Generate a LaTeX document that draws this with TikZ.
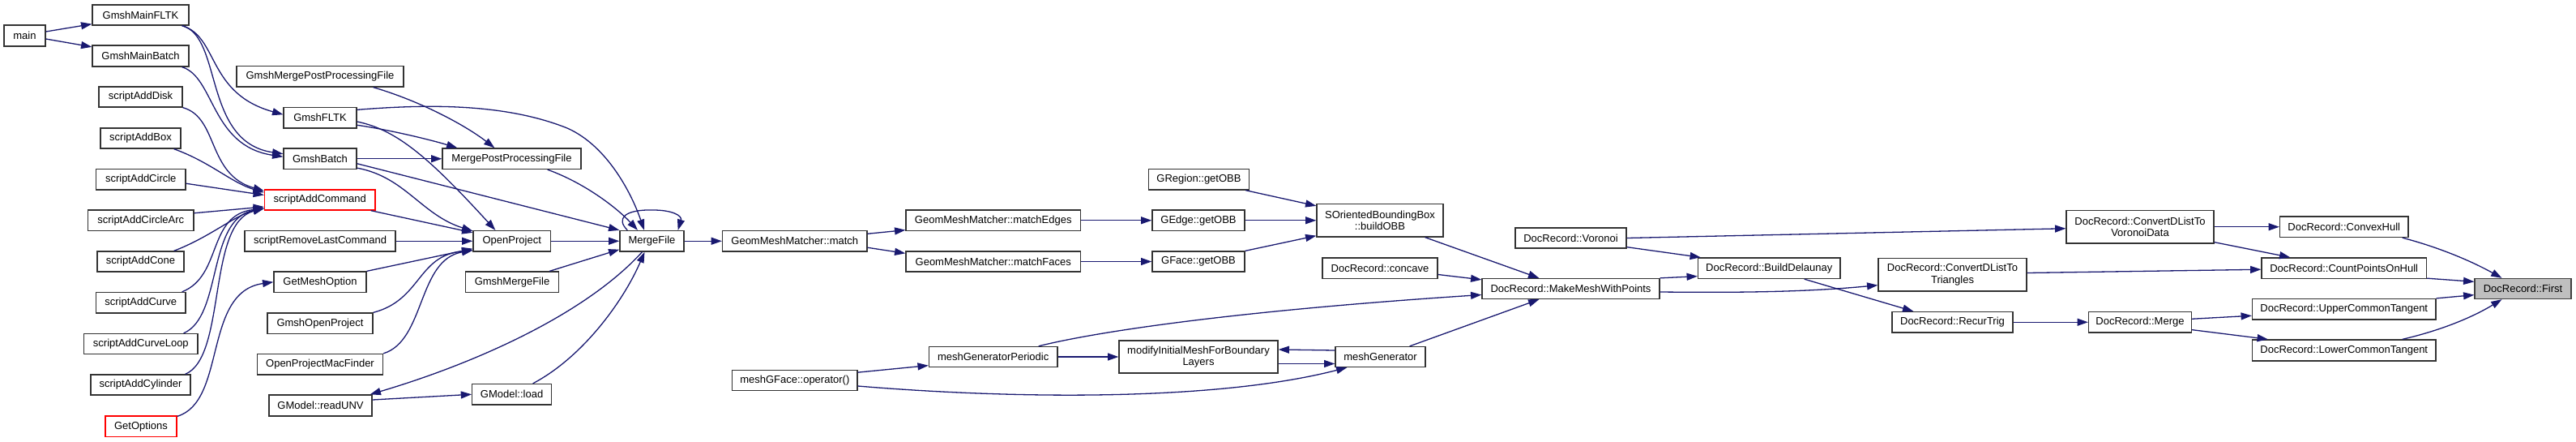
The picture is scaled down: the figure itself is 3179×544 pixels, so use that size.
\documentclass[tikz,border=0pt]{standalone}
\usepackage{fontspec}
\setmainfont{Liberation Sans}
\usetikzlibrary{arrows.meta,calc}
\definecolor{edgeblue}{HTML}{191970}
\definecolor{nodeborder}{HTML}{333333}
\definecolor{rootfill}{HTML}{BFBFBF}
\definecolor{rootborder}{HTML}{404040}
\tikzset{
  fn/.style={draw=nodeborder, fill=white, line width=1.3pt, inner sep=0pt, align=center,
    font=\fontsize{13}{14.5}\selectfont, text=black},
  redfn/.style={fn, draw=red},
  rootfn/.style={fn, fill=rootfill, draw=rootborder},
  call/.style={draw=edgeblue, line width=1.3pt, -{Triangle[length=13.3pt,width=9pt]}, fill=none},
}
\newcommand{\fnode}[7]{\node[#1, minimum width=#5pt, minimum height=#6pt] (#2) at (#3,#4) {#7};}
\begin{document}
\begin{tikzpicture}[x=1pt,y=-1pt]
\useasboundingbox (0,0) rectangle (3179,544);
% ---- nodes ----
\fnode{fn}{main}{30.5}{44}{51}{26}{main}
\fnode{fn}{gmfltk}{173.5}{18.5}{119}{25}{GmshMainFLTK}
\fnode{fn}{gmbatch}{173.5}{69}{119}{26}{GmshMainBatch}
\fnode{fn}{gmpp}{395}{94.25}{206}{25.5}{GmshMergePostProcessingFile}
\fnode{fn}{sadisk}{173.5}{119.5}{103}{25}{scriptAddDisk}
\fnode{fn}{gfltk}{395}{145.25}{90}{25.5}{GmshFLTK}
\fnode{fn}{sabox}{173.5}{170.5}{99}{25}{scriptAddBox}
\fnode{fn}{gbatch}{395}{195.75}{90}{25.5}{GmshBatch}
\fnode{fn}{sacircle}{173.75}{221.25}{110.5}{25.5}{scriptAddCircle}
\fnode{redfn}{sacmd}{394.75}{246.5}{136.5}{25}{scriptAddCommand}
\fnode{fn}{sacarc}{173.75}{271.75}{130.5}{25.5}{scriptAddCircleArc}
\fnode{fn}{srlc}{395}{297.25}{186}{25.5}{scriptRemoveLastCommand}
\fnode{fn}{sacone}{173.5}{322.5}{107}{25}{scriptAddCone}
\fnode{fn}{gmo}{395}{347.75}{114}{25.5}{GetMeshOption}
\fnode{fn}{sacurve}{173.75}{373.25}{110.5}{25.5}{scriptAddCurve}
\fnode{fn}{gop}{395}{398.75}{130}{25.5}{GmshOpenProject}
\fnode{fn}{sacl}{173.85}{424}{140.3}{25}{scriptAddCurveLoop}
\fnode{fn}{opmf}{395}{449.25}{155}{25.5}{OpenProjectMacFinder}
\fnode{fn}{sacyl}{173.5}{474.5}{123}{25}{scriptAddCylinder}
\fnode{fn}{runv}{395.5}{500}{127}{26}{GModel::readUNV}
\fnode{redfn}{getopt}{174}{525.75}{88}{25.5}{GetOptions}
\fnode{fn}{mpp}{631.5}{195.75}{171}{25.5}{MergePostProcessingFile}
\fnode{fn}{op}{631.75}{297.25}{95.5}{25.5}{OpenProject}
\fnode{fn}{gmf}{632}{347.75}{115}{25.5}{GmshMergeFile}
\fnode{fn}{load}{631.6}{486.25}{97.8}{25.5}{GModel::load}
\fnode{fn}{mf}{804.5}{297.25}{79}{25.5}{MergeFile}
\fnode{fn}{match}{980.8}{297.25}{178.4}{25.5}{GeomMeshMatcher::match}
\fnode{fn}{mgf}{980.8}{469.3}{154.4}{25}{meshGFace::operator()}
\fnode{fn}{medges}{1225.75}{271.75}{215.5}{25.5}{GeomMeshMatcher::matchEdges}
\fnode{fn}{mfaces}{1225.75}{322.5}{215.5}{25}{GeomMeshMatcher::matchFaces}
\fnode{fn}{greg}{1479.5}{221.25}{124}{25.5}{GRegion::getOBB}
\fnode{fn}{gedge}{1479}{271.75}{114}{25.5}{GEdge::getOBB}
\fnode{fn}{gface}{1479}{322.5}{114}{25}{GFace::getOBB}
\fnode{fn}{mgp}{1225.7}{440}{158.6}{25}{meshGeneratorPeriodic}
\fnode{fn}{mod}{1479}{440}{196}{40}{modifyInitialMeshForBoundary\\Layers}
\fnode{fn}{obb}{1703}{271.75}{156}{40.5}{SOrientedBoundingBox\\::buildOBB}
\fnode{fn}{concave}{1703}{330.75}{142}{25.5}{DocRecord::concave}
\fnode{fn}{mmwp}{1938.5}{356}{219}{25}{DocRecord::MakeMeshWithPoints}
\fnode{fn}{mg}{1703.5}{440}{111}{25}{meshGenerator}
\fnode{fn}{vor}{1938.5}{293.5}{137}{25}{DocRecord::Voronoi}
\fnode{fn}{bd}{2183.25}{330.75}{175.5}{25.5}{DocRecord::BuildDelaunay}
\fnode{fn}{tri}{2409.5}{338.75}{183}{40.5}{DocRecord::ConvertDListTo\\Triangles}
\fnode{fn}{rt}{2409.5}{397.25}{149}{25.5}{DocRecord::RecurTrig}
\fnode{fn}{vd}{2641}{279.75}{182}{40.5}{DocRecord::ConvertDListTo\\VoronoiData}
\fnode{fn}{merge}{2641}{397.25}{127}{25.5}{DocRecord::Merge}
\fnode{fn}{ch}{2892.75}{279.75}{158.5}{25.5}{DocRecord::ConvexHull}
\fnode{fn}{cpoh}{2892.7}{330.75}{203.4}{25.5}{DocRecord::CountPointsOnHull}
\fnode{fn}{uct}{2892.75}{381.25}{226.5}{25.5}{DocRecord::UpperCommonTangent}
\fnode{fn}{lct}{2892.75}{432}{226.5}{26}{DocRecord::LowerCommonTangent}
\fnode{rootfn}{first}{3113.5}{356}{119}{25}{DocRecord::First}
% ---- connectors ----
\draw[call] ($(main.east)+(0,-5)$) -- ($(gmfltk.south west)+(0,-2)$);
\draw[call] ($(main.east)+(0,4)$) -- ($(gmbatch.north west)+(0,2.5)$);
\draw[call] ($(gmfltk.south east)+(-9,0)$) .. controls (270,45) and (255,115) .. ($(gfltk.west)+(0,-4)$);
\draw[call] ($(gmfltk.south east)+(-9,0)$) .. controls (275,45) and (250,175) .. ($(gbatch.west)+(0,-6)$);
\draw[call] ($(gmbatch.south east)+(-9,0)$) .. controls (265,95) and (260,180) .. ($(gbatch.west)+(0,-2.5)$);
% scriptAdd* -> scriptAddCommand
\draw[call] (sadisk.south east) .. controls (270,145) and (255,215) .. ($(sacmd.north west)+(0,2)$);
\draw[call] ($(sabox.south east)+(-9,0)$) .. controls (260,200) and (285,225) .. ($(sacmd.north west)+(0,4)$);
\draw[call] ($(sacircle.east)+(0,5)$) -- ($(sacmd.west)+(0,-6)$);
\draw[call] ($(sacarc.east)+(0,-9)$) -- ($(sacmd.west)+(0,8.5)$);
\draw[call] ($(sacone.north east)+(-13,0)$) .. controls (260,292) and (290,265) .. ($(sacmd.west)+(0,10.5)$);
\draw[call] ($(sacurve.north east)+(-5,0)$) .. controls (275,340) and (255,265) .. ($(sacmd.west)+(0,10.5)$);
\draw[call] ($(sacl.north east)+(-18,0)$) .. controls (275,390) and (255,270) .. ($(sacmd.west)+(0,10.5)$);
\draw[call] ($(sacyl.north east)+(-7,0)$) .. controls (280,440) and (255,275) .. ($(sacmd.west)+(0,10.5)$);
\draw[call] ($(getopt.north east)+(0,1)$) .. controls (280,495) and (250,360) .. (gmo.west);
% to MergePostProcessingFile / OpenProject / MergeFile
\draw[call] ($(gfltk.north east)+(0,3.5)$) .. controls (520,129) and (620,126) .. (700,158) .. controls (750,180) and (780,240) .. ($(mf.north)+(-9.5,0)$);
\draw[call] ($(gmpp.south east)+(-38,0)$) .. controls (520,125) and (575,155) .. ($(mpp.north west)+(65,0)$);
\draw[call] ($(gfltk.east)+(0,9)$) .. controls (480,160) and (530,172) .. ($(mpp.north west)+(19,0)$);
\draw[call] ($(gfltk.east)+(0,4.75)$) .. controls (490,160) and (530,195) .. ($(op.north west)+(28,0)$);
\draw[call] (gbatch.east) -- (mpp.west);
\draw[call] ($(gbatch.east)+(0,6)$) -- (mf.north west);
\draw[call] ($(gbatch.south east)+(0,-2)$) .. controls (500,218) and (520,265) .. ($(op.north west)+(0,1)$);
\draw[call] ($(sacmd.south east)+(-6,0)$) -- ($(op.north west)+(0,3)$);
\draw[call] (srlc.east) -- (op.west);
\draw[call] (gmo.north east) -- ($(op.south west)+(0,-4)$);
\draw[call] (gop.north east) .. controls (520,370) and (515,315) .. ($(op.south west)+(0,-2)$);
\draw[call] (opmf.north east) .. controls (525,420) and (515,320) .. ($(op.south west)+(0,-2)$);
\draw[call] ($(runv.east)+(0,-7)$) -- (load.west);
\draw[call] ($(mf.south)+(-12,0)$) .. controls (720,390) and (580,450) .. ($(runv.north east)+(-3,0)$);
\draw[call] ($(load.north)+(26,0)$) .. controls (720,440) and (770,370) .. ($(mf.south)+(-9,0)$);
\draw[call] ($(gmf.north east)+(-12,0)$) -- ($(mf.south west)+(0,-3)$);
\draw[call] (op.east) -- (mf.west);
\draw[call] ($(mpp.south east)+(-42,0)$) .. controls (720,225) and (760,255) .. ($(mf.north)+(-17.5,0)$);
\draw[call] ($(mf.north west)+(10,0)$) .. controls (760,270) and (770,258) .. (806,259) .. controls (830,259) and (842,266) .. ($(mf.north east)+(-8,0)$);
\draw[call] (mf.east) -- (match.west);
% matcher chain
\draw[call] ($(match.east)+(0,-9)$) -- ($(medges.south west)+(0,-1.5)$);
\draw[call] ($(match.east)+(0,8)$) -- ($(mfaces.north west)+(0,3)$);
\draw[call] (medges.east) -- (gedge.west);
\draw[call] (mfaces.east) -- (gface.west);
\draw[call] ($(greg.south east)+(-5,0)$) -- ($(obb.north west)+(0,3)$);
\draw[call] (gedge.east) -- (obb.west);
\draw[call] (gface.north east) -- ($(obb.south west)+(0,-2)$);
% mesh generator chain
\draw[call] ($(mgf.north east)+(0,3)$) -- ($(mgp.south west)+(0,-2.5)$);
\draw[call] (mgp.east) -- (mod.west);
\draw[call] ($(mgf.east)+(0,6.7)$) .. controls (1250,492) and (1500,495) .. ($(mg.south west)+(15,0)$);
\draw[call] ($(mg.west)+(0,-8)$) -- ($(mod.east)+(0,-9)$);
\draw[call] ($(mod.east)+(0,8.5)$) -- ($(mg.west)+(0,8.5)$);
\draw[call] ($(mgp.north east)+(-24,0)$) .. controls (1340,412) and (1500,385) .. ($(mmwp.west)+(0,7.5)$);
\draw[call] ($(mg.north east)+(-20,0)$) -- ($(mmwp.south west)+(71,0)$);
\draw[call] ($(obb.south east)+(-23,0)$) -- ($(mmwp.north west)+(71,0)$);
\draw[call] ($(concave.east)+(0,7.75)$) -- ($(mmwp.north west)+(0,2)$);
% DocRecord chain
\draw[call] (mmwp.north east) -- ($(bd.south west)+(0,-3.5)$);
\draw[call] ($(vor.south east)+(0,-2)$) -- ($(bd.north west)+(4,0)$);
\draw[call] (vor.east) -- ($(vd.west)+(0,2)$);
\draw[call] ($(mmwp.east)+(0,4)$) .. controls (2150,361) and (2230,360) .. ($(tri.south west)+(0,-8)$);
\draw[call] ($(bd.south east)+(-45,0)$) -- ($(rt.north west)+(27,0)$);
\draw[call] ($(tri.east)+(0,-2.25)$) -- ($(cpoh.west)+(0,1.5)$);
\draw[call] (rt.east) -- (merge.west);
\draw[call] (vd.east) -- (ch.west);
\draw[call] ($(vd.south east)+(0,-2)$) -- ($(cpoh.north west)+(36,0)$);
\draw[call] ($(merge.east)+(0,-4)$) -- ($(uct.south west)+(0,-5.4)$);
\draw[call] ($(merge.south east)+(0,-4)$) -- ($(lct.north west)+(20,0)$);
\draw[call] ($(ch.south east)+(-8,0)$) .. controls (3010,305) and (3050,322) .. ($(first.north)+(-26,0)$);
\draw[call] ($(cpoh.south east)+(0,-1)$) -- ($(first.north west)+(0,4.5)$);
\draw[call] (uct.north east) -- ($(first.south west)+(0,-5.5)$);
\draw[call] ($(lct.north east)+(-42,0)$) .. controls (3010,408) and (3050,392) .. ($(first.south)+(-26,0)$);
\end{tikzpicture}
\end{document}
